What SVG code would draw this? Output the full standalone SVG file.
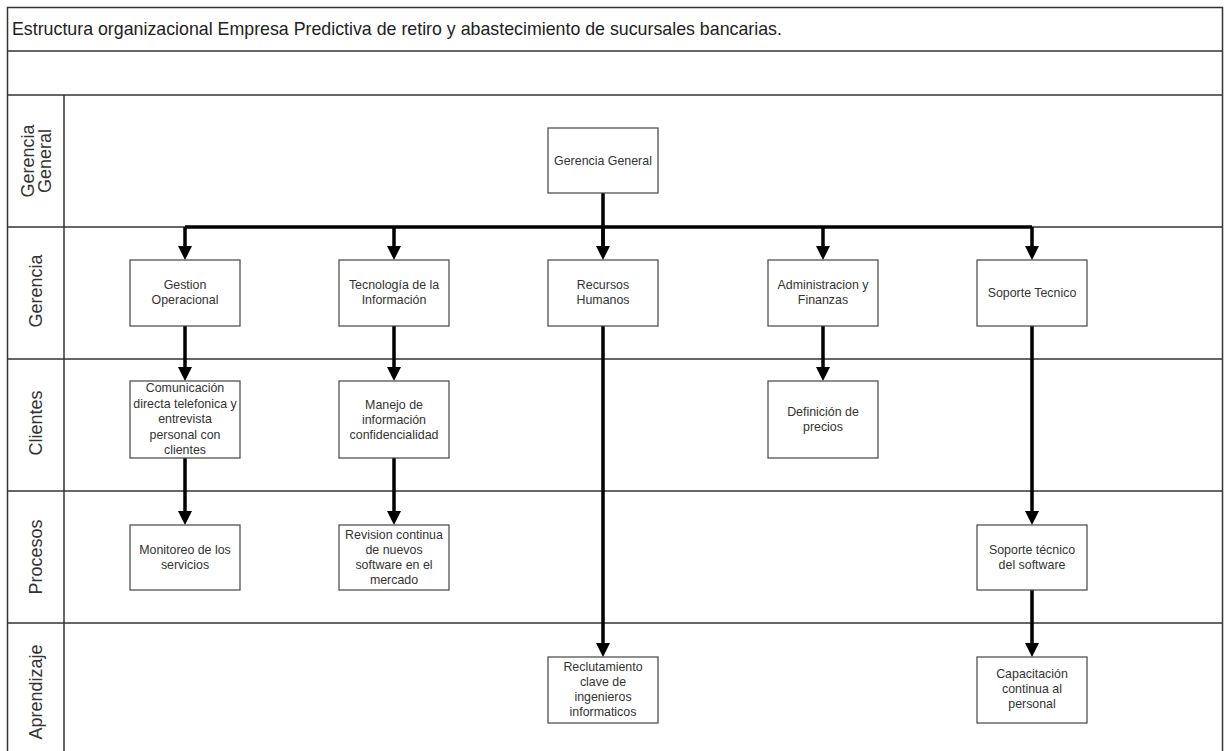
<svg xmlns="http://www.w3.org/2000/svg" width="1226" height="751" viewBox="0 0 1226 751">
<style>
.frame{fill:none;stroke:#333;stroke-width:1.5}
.box{fill:#fff;stroke:#444;stroke-width:1.2}
.t{font-family:"Liberation Sans",Arial,sans-serif;font-size:12.4px;fill:#333;text-anchor:middle}
.lane{font-family:"Liberation Sans",Arial,sans-serif;font-size:18px;fill:#333;text-anchor:middle}
.title{font-family:"Liberation Sans",Arial,sans-serif;font-size:17.8px;fill:#222}
.c{fill:none;stroke:#000;stroke-width:3.5}
</style>
<defs>
<marker id="arr" viewBox="0 0 14 14" refX="0" refY="7" markerWidth="14" markerHeight="14" markerUnits="userSpaceOnUse" orient="auto">
<path d="M0,0 L14,7 L0,14 z" fill="#000"/>
</marker>
</defs>
<rect x="0" y="0" width="1226" height="751" fill="#fff"/>
<g id="pool">
<rect class="frame" x="7.5" y="7.5" width="1215" height="750"/>
<line class="frame" x1="7" y1="51" x2="1223" y2="51"/>
<line class="frame" x1="7" y1="95" x2="1223" y2="95"/>
<line class="frame" x1="64" y1="95" x2="64" y2="751"/>
<line class="frame" x1="7" y1="227" x2="1223" y2="227"/>
<line class="frame" x1="7" y1="359" x2="1223" y2="359"/>
<line class="frame" x1="7" y1="491" x2="1223" y2="491"/>
<line class="frame" x1="7" y1="623" x2="1223" y2="623"/>
<text class="title" x="12" y="35">Estructura organizacional Empresa Predictiva de retiro y abastecimiento de sucursales bancarias.</text>
</g>
<g id="lanes">
<text class="lane" transform="translate(37,161) rotate(-90)"><tspan x="0" y="-3">Gerencia</tspan><tspan x="0" y="14">General</tspan></text>
<text class="lane" transform="translate(36,291) rotate(-90)" y="6">Gerencia</text>
<text class="lane" transform="translate(36,423) rotate(-90)" y="6">Clientes</text>
<text class="lane" transform="translate(36,557) rotate(-90)" y="6">Procesos</text>
<text class="lane" transform="translate(36,692) rotate(-90)" y="6">Aprendizaje</text>
</g>
<g id="connectors">
<path class="c" d="M603,193 V246"/>
<path class="c" d="M185,227 H1032"/>
<path class="c" d="M185,227 V246" marker-end="url(#arr)"/>
<path class="c" d="M394,227 V246" marker-end="url(#arr)"/>
<path class="c" d="M603,227 V246" marker-end="url(#arr)"/>
<path class="c" d="M823,227 V246" marker-end="url(#arr)"/>
<path class="c" d="M1032,227 V246" marker-end="url(#arr)"/>
<path class="c" d="M185,326 V367" marker-end="url(#arr)"/>
<path class="c" d="M185,458 V511" marker-end="url(#arr)"/>
<path class="c" d="M394,326 V367" marker-end="url(#arr)"/>
<path class="c" d="M394,458 V511" marker-end="url(#arr)"/>
<path class="c" d="M603,326 V643" marker-end="url(#arr)"/>
<path class="c" d="M823,326 V367" marker-end="url(#arr)"/>
<path class="c" d="M1032,326 V511" marker-end="url(#arr)"/>
<path class="c" d="M1032,590 V643" marker-end="url(#arr)"/>
</g>
<g id="gg"><rect class="box" x="548" y="128" width="110" height="65"/><text class="t" x="603" y="165">Gerencia General</text></g>
<g id="go"><rect class="box" x="130" y="260" width="110" height="66"/><text class="t" x="185" y="289">Gestion</text><text class="t" x="185" y="304">Operacional</text></g>
<g id="ti"><rect class="box" x="339" y="260" width="110" height="66"/><text class="t" x="394" y="289">Tecnología de la</text><text class="t" x="394" y="304">Información</text></g>
<g id="rh"><rect class="box" x="548" y="260" width="110" height="66"/><text class="t" x="603" y="289">Recursos</text><text class="t" x="603" y="304">Humanos</text></g>
<g id="af"><rect class="box" x="768" y="260" width="110" height="66"/><text class="t" x="823" y="289">Administracion y</text><text class="t" x="823" y="304">Finanzas</text></g>
<g id="st"><rect class="box" x="977" y="260" width="110" height="66"/><text class="t" x="1032" y="297">Soporte Tecnico</text></g>
<g id="com"><rect class="box" x="130" y="381" width="110" height="77"/>
<text class="t" x="185" y="392">Comunicación</text><text class="t" x="185" y="407.5">directa telefonica y</text><text class="t" x="185" y="423">entrevista</text><text class="t" x="185" y="438.5">personal con</text><text class="t" x="185" y="454">clientes</text></g>
<g id="man"><rect class="box" x="339" y="381" width="110" height="77"/>
<text class="t" x="394" y="409">Manejo de</text><text class="t" x="394" y="424">información</text><text class="t" x="394" y="439">confidencialidad</text></g>
<g id="def"><rect class="box" x="768" y="381" width="110" height="77"/>
<text class="t" x="823" y="416">Definición de</text><text class="t" x="823" y="431">precios</text></g>
<g id="mon"><rect class="box" x="130" y="525" width="110" height="65"/>
<text class="t" x="185" y="554">Monitoreo de los</text><text class="t" x="185" y="569">servicios</text></g>
<g id="rev"><rect class="box" x="339" y="525" width="110" height="65"/>
<text class="t" x="394" y="539">Revision continua</text><text class="t" x="394" y="554">de nuevos</text><text class="t" x="394" y="569">software en el</text><text class="t" x="394" y="584">mercado</text></g>
<g id="sts"><rect class="box" x="977" y="525" width="110" height="65"/>
<text class="t" x="1032" y="554">Soporte técnico</text><text class="t" x="1032" y="569">del software</text></g>
<g id="rec"><rect class="box" x="548" y="657" width="110" height="66"/>
<text class="t" x="603" y="671">Reclutamiento</text><text class="t" x="603" y="686">clave de</text><text class="t" x="603" y="701">ingenieros</text><text class="t" x="603" y="716">informaticos</text></g>
<g id="cap"><rect class="box" x="977" y="657" width="110" height="66"/>
<text class="t" x="1032" y="678">Capacitación</text><text class="t" x="1032" y="693">continua al</text><text class="t" x="1032" y="708">personal</text></g>
</svg>
